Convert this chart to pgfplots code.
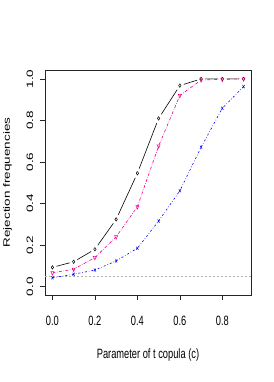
\documentclass[border=0pt]{standalone}
\usepackage{pgfplots}
\pgfplotsset{compat=1.18}
\usepackage{pgfplotstable}
\usepackage{fontspec}
\setmainfont{Liberation Sans}
\usepackage{graphicx}
\newcommand{\sx}[1]{\scalebox{1}[1.45]{#1}}
\newcommand{\sy}[1]{\scalebox{1.45}[1]{#1}}
\pgfplotstableread{
c black magenta blue
0.0 0.093 0.067 0.043
0.1 0.120 0.084 0.060
0.2 0.180 0.140 0.080
0.3 0.324 0.240 0.124
0.4 0.546 0.385 0.185
0.5 0.810 0.677 0.316
0.6 0.968 0.920 0.462
0.7 1.000 0.995 0.671
0.8 1.000 0.998 0.859
0.9 1.000 1.000 0.963
}\data
\begin{document}
\begin{tikzpicture}
\begin{axis}[
  scale only axis, width=206pt, height=225pt,
  xmin=-0.035, xmax=0.935, ymin=-0.04, ymax=1.043,
  xtick={0,0.2,0.4,0.6,0.8}, ytick={0,0.2,0.4,0.6,0.8,1},
  tick align=outside, major tick length=5pt,
  xtick pos=lower, ytick pos=left,
  axis line style={black!85, line width=0.6pt},
  every tick/.style={black!85, line width=0.6pt},
  font=\fontsize{9.3}{11}\selectfont,
  xticklabel={\sx{\pgfmathprintnumber[fixed,fixed zerofill,precision=1,assume math mode=true]{\tick}}},
  yticklabel={\rotatebox{90}{\sy{\pgfmathprintnumber[fixed,fixed zerofill,precision=1,assume math mode=true]{\tick}}}},
  xticklabel style={anchor=center, inner sep=0pt, yshift=-21pt},
  yticklabel style={anchor=east, inner sep=0pt, xshift=-6.5pt},
  xlabel={\sx{Parameter of t copula (c)}},
  ylabel={\sy{Rejection frequencies}},
  xlabel style={at={(axis description cs:0.5,-0.2667)}, anchor=center},
  ylabel style={at={(axis description cs:-0.182,0.5)}, anchor=center},
]
\coordinate (bl) at (rel axis cs:0,0);
\coordinate (tr) at (rel axis cs:1,1);
\addplot[black, line width=0.6pt] table[x=c,y=black]{\data};
\addplot[only marks, mark=*, white, mark size=4pt, mark options={yscale=1.3}] table[x=c,y=black]{\data};
\addplot[only marks, black, mark=o, mark size=1.2pt, mark options={yscale=1.45, line width=0.5pt}] table[x=c,y=black]{\data};
\addplot[gray!60, line width=0.5pt, dash pattern=on 2pt off 2pt] coordinates {(-0.035,0.05) (0.935,0.05)};
\addplot[magenta, line width=0.6pt, dash pattern=on 3pt off 1.5pt on 0.6pt off 1.5pt, mark=triangle, mark size=1.8pt, mark options={solid, rotate=180, yscale=1.3, line width=0.5pt}] table[x=c,y=magenta]{\data};
\addplot[blue, line width=0.6pt, dash pattern=on 2pt off 2pt on 0.6pt off 2pt, mark=x, mark size=1.5pt, mark options={solid, yscale=1.45, line width=0.5pt}] table[x=c,y=blue]{\data};
\end{axis}
\pgfresetboundingbox
\path ([shift={(-45pt,-87pt)}]bl) rectangle ([shift={(23pt,70pt)}]tr);
\end{tikzpicture}
\end{document}
